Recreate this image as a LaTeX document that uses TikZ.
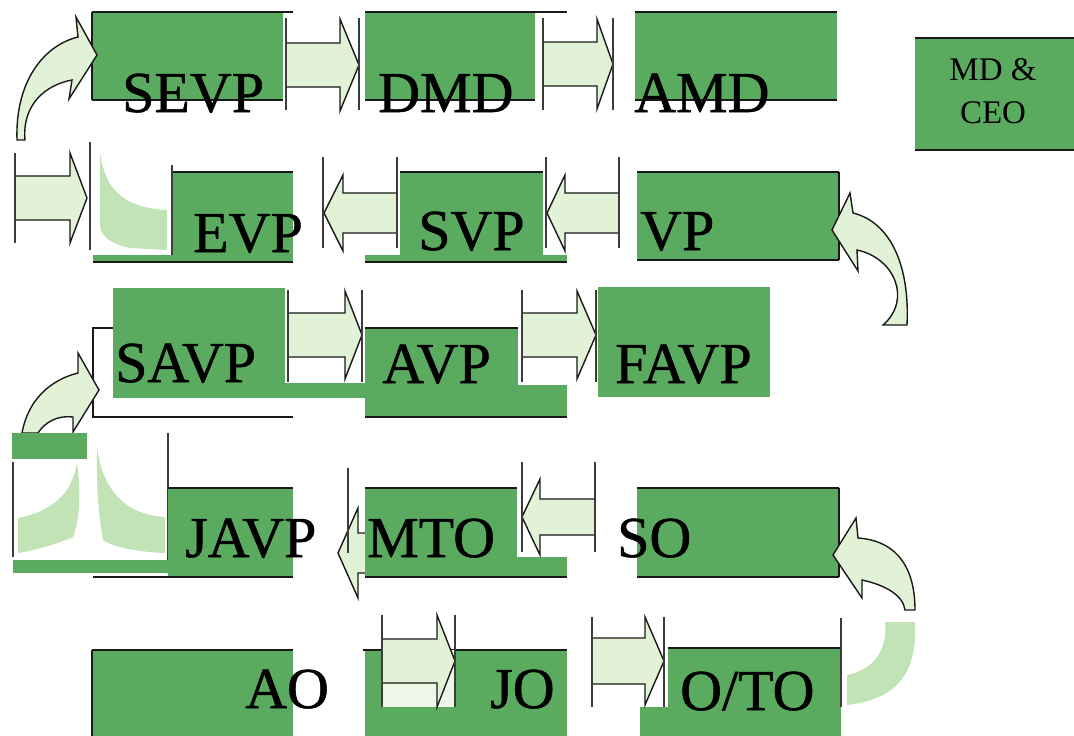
\documentclass[tikz,border=0pt]{standalone}
\usepackage{fontspec}
\setmainfont{Liberation Serif}
\newfontfamily\heavyserif[FakeBold=0.9]{Liberation Serif}
\definecolor{boxg}{RGB}{90,170,96}
\definecolor{arrg}{RGB}{226,242,214}
\definecolor{fadeg}{RGB}{194,227,182}
\definecolor{inkc}{RGB}{25,25,25}
\tikzset{
  box/.style={fill=boxg},
  edge/.style={draw=inkc, line width=1.6pt},
  vline/.style={draw=inkc!85, line width=1.2pt},
  barrow/.style={fill=arrg, draw=inkc, line width=1.4pt, line join=miter},
  fade/.style={fill=fadeg},
  big/.style={anchor=base west, inner sep=0pt, text=black, font=\heavyserif\fontsize{58}{60}\selectfont},
  small/.style={anchor=base, inner sep=0pt, text=black, font=\fontsize{33}{35}\selectfont}
}
\newcommand{\RBA}[6]{\draw[barrow] (#1,#4-#5) -- (#2,#4-#5) -- (#2,#4-#6) -- (#3,#4) -- (#2,#4+#6) -- (#2,#4+#5) -- (#1,#4+#5) -- cycle;}
\newcommand{\VL}[3]{\draw[vline] (#1,#2) -- (#1,#3);}
\begin{document}
\begin{tikzpicture}[x=1pt,y=-1pt]
\useasboundingbox (0,0) rectangle (1074,736);
\fill[white] (0,0) rectangle (1074,736);
% ---------- row 1 ----------
\fill[box] (92,12) rectangle (283,100);
\draw[edge] (92,12) -- (293,12); \draw[edge] (92,100) -- (283,100); \draw[edge] (92,12) -- (92,100);
\fill[box] (365,12) rectangle (535,100);
\draw[edge] (365,12) -- (567,12); \draw[edge] (365,100) -- (535,100);
\fill[box] (635,12) rectangle (837,100);
\draw[edge] (635,12) -- (837,12); \draw[edge] (635,100) -- (837,100);
\fill[box] (915,38) rectangle (1074,150);
\draw[edge] (915,38) -- (1074,38); \draw[edge] (915,150) -- (1074,150);
\RBA{286}{340}{359}{65}{22}{46}
\VL{286}{18}{110} \VL{359}{18}{110}
\RBA{543}{597}{613}{64}{22}{45}
\VL{543}{18}{110} \VL{613}{18}{110}
% curved arrow to SEVP
\draw[barrow] (17,140) .. controls (15,80) and (45,45) .. (78,37) -- (76,17) -- (97,55) -- (69,99) -- (72,80) .. controls (45,85) and (22,105) .. (25,140) -- cycle;
% ---------- row 2 ----------
\fill[fade] (100,152) .. controls (105,195) and (130,208) .. (167,210) -- (167,250) -- (130,248) .. controls (110,244) and (100,235) .. (100,225) -- cycle;
\fill[box] (172,172) rectangle (293,262);
\fill[box] (93,255) rectangle (293,262);
\draw[edge] (172,172) -- (293,172); \draw[edge] (93,262) -- (293,262);
\VL{172}{165}{255}
\fill[box] (400,172) rectangle (543,262);
\fill[box] (365,255) rectangle (567,262);
\draw[edge] (400,172) -- (543,172); \draw[edge] (365,262) -- (567,262);
\fill[box] (637,172) rectangle (839,260);
\draw[edge] (637,172) -- (839,172); \draw[edge] (637,260) -- (839,260); \draw[edge] (839,172) -- (839,260);
\RBA{15}{70}{87}{198}{22}{45}
\VL{15}{153}{243} \VL{90}{142}{250}
\RBA{397}{343}{324}{213}{20}{38}
\VL{323}{157}{248} \VL{397}{157}{248}
\RBA{619}{565}{547}{213}{20}{38}
\VL{546}{157}{248} \VL{619}{157}{248}
% curved arrow to VP
\draw[barrow] (907,325) .. controls (910,265) and (890,222) .. (853,213) -- (850,193) -- (832,230) -- (858,271) -- (857,250) .. controls (895,258) and (912,300) .. (883,325) -- cycle;
% ---------- row 3 ----------
\draw[edge] (113,328) -- (93,328) -- (93,417) -- (293,417);
\fill[box] (113,288) rectangle (285,398);
\fill[box] (285,383) rectangle (367,398);
\fill[box] (365,328) rectangle (518,417);
\fill[box] (518,385) rectangle (567,417);
\draw[edge] (365,328) -- (518,328); \draw[edge] (365,417) -- (567,417);
\fill[box] (598,287) rectangle (770,397);
\RBA{288}{345}{362}{335}{22}{44}
\VL{288}{290}{382} \VL{362}{290}{382}
\RBA{522}{577}{596}{335}{22}{44}
\VL{522}{290}{382} \VL{596}{290}{382}
% curved arrow to SAVP
\draw[barrow] (22,433) .. controls (28,400) and (50,380) .. (78,373) -- (78,353) -- (99,390) -- (73,432) -- (73,417) .. controls (58,415) and (45,422) .. (38,433) -- cycle;
% ---------- row 4 ----------
\fill[box] (12,433) rectangle (87,459);
\VL{13}{462}{557} \VL{168}{433}{560}
\fill[fade] (77,463) .. controls (81,490) and (80,520) .. (73,537) .. controls (55,545) and (35,550) .. (18,553) -- (18,518) .. controls (50,512) and (72,495) .. (77,463) -- cycle;
\fill[fade] (97,447) .. controls (103,495) and (130,515) .. (165,517) -- (165,553) .. controls (140,552) and (115,548) .. (103,540) .. controls (98,510) and (96,480) .. (97,447) -- cycle;
\fill[box] (168,488) rectangle (293,577);
\fill[box] (13,560) rectangle (293,573);
\draw[edge] (168,488) -- (293,488); \draw[edge] (93,577) -- (293,577);
\RBA{420}{358}{338}{553}{20}{45}
\VL{348}{468}{553}
\fill[box] (365,488) rectangle (517,577);
\fill[box] (517,557) rectangle (567,577);
\draw[edge] (365,488) -- (517,488); \draw[edge] (365,577) -- (567,577);
\fill[box] (637,488) rectangle (839,577);
\draw[edge] (637,488) -- (839,488); \draw[edge] (637,577) -- (839,577); \draw[edge] (839,488) -- (839,577);
\RBA{595}{540}{522}{517}{18}{38}
\VL{522}{462}{552} \VL{595}{462}{552}
% curved arrow to SO
\fill[fade] (885,622) -- (915,622) .. controls (918,680) and (890,700) .. (847,705) -- (847,675) .. controls (872,670) and (888,652) .. (885,622) -- cycle;
\draw[barrow] (915,610) .. controls (915,560) and (890,540) .. (858,538) -- (856,518) -- (833,555) -- (862,598) -- (862,580) .. controls (885,585) and (903,595) .. (905,610) -- cycle;
% ---------- row 5 ----------
\fill[box] (92,650) rectangle (293,736);
\draw[edge] (92,650) -- (293,650); \draw[edge] (92,650) -- (92,736);
\fill[box] (365,650) rectangle (567,736);
\draw[edge] (363,650) -- (567,650);
\fill[box] (668,648) rectangle (841,736);
\fill[box] (640,707) rectangle (668,736);
\draw[edge] (668,648) -- (841,648);
\VL{841}{618}{707}
\fill[arrg!60!white] (382,650) rectangle (455,707);
\RBA{382}{437}{455}{661}{22}{46}
\VL{382}{615}{707} \VL{455}{615}{707}
\RBA{592}{645}{664}{661}{23}{44}
\VL{592}{617}{707} \VL{664}{617}{707}
% ---------- labels ----------
\node[big] (sevp) at (122,112) {SEVP};
\node[big] (dmd) at (378,112) {DMD};
\node[big] (amd) at (634,112) {AMD};
\node[small] (md) at (993,80) {MD \&};
\node[small] (ceo) at (993,123) {CEO};
\node[big] (evp) at (193,252) {EVP};
\node[big] (svp) at (418,250) {SVP};
\node[big] (vp) at (640,250) {VP};
\node[big] (savp) at (115,382) {SAVP};
\node[big] (avp) at (382,383) {AVP};
\node[big] (favp) at (615,383) {FAVP};
\node[big] (javp) at (185,557) {JAVP};
\node[big] (mto) at (367,557) {MTO};
\node[big] (so) at (617,557) {SO};
\node[big] (ao) at (245,708) {AO};
\node[big] (jo) at (490,708) {JO};
\node[big] (oto) at (680,710) {O/TO};
\end{tikzpicture}
\end{document}
